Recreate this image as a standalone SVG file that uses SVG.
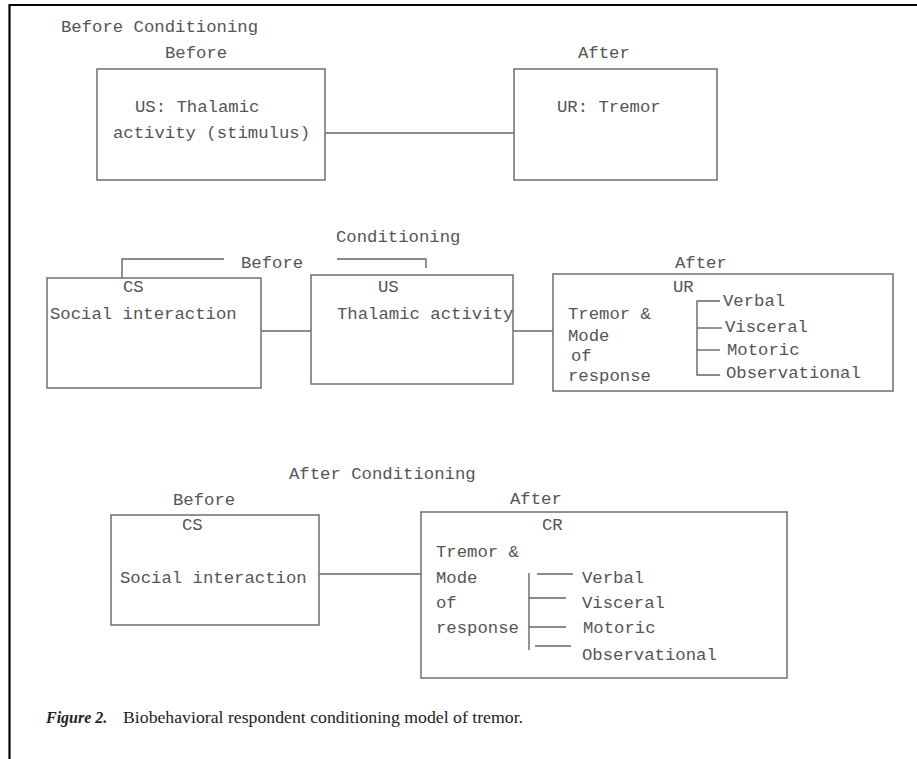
<svg xmlns="http://www.w3.org/2000/svg" width="917" height="759" viewBox="0 0 917 759">
<style>
  .t { font-family: "Liberation Mono", "Courier New", monospace; font-size: 17.3px; fill: #555; }
  .box { fill: none; stroke: #777; stroke-width: 1.6; }
  .ln { fill: none; stroke: #666; stroke-width: 1.4; }
  .cap { font-family: "Liberation Serif", "Times New Roman", serif; font-size: 16px; fill: #222; }
</style>
<rect width="917" height="759" fill="#fff"/>
<g id="frame">
  <line x1="9" y1="5" x2="917" y2="5" stroke="#000" stroke-width="2.2"/>
  <line x1="9.5" y1="4" x2="9.5" y2="759" stroke="#000" stroke-width="2.2"/>
</g>
<g id="titles">
  <text class="t" x="61" y="31.5">Before Conditioning</text>
  <text class="t" x="165" y="58">Before</text>
  <text class="t" x="578" y="58">After</text>
  <text class="t" x="336" y="242">Conditioning</text>
  <text class="t" x="241" y="268">Before</text>
  <text class="t" x="675" y="268">After</text>
  <text class="t" x="289" y="479">After Conditioning</text>
  <text class="t" x="173" y="505">Before</text>
  <text class="t" x="510" y="504">After</text>
</g>
<g id="connectors">
  <line class="ln" x1="325" y1="133" x2="514" y2="133"/>
  <polyline class="ln" points="122,278 122,259 224,259"/>
  <polyline class="ln" points="337,259 426,259 426,268"/>
  <line class="ln" x1="261" y1="331" x2="311" y2="331"/>
  <line class="ln" x1="513" y1="331" x2="553" y2="331"/>
  <line class="ln" x1="319" y1="574" x2="421" y2="574"/>
</g>
<g id="node-us1">
  <rect class="box" x="97" y="69" width="228" height="111"/>
  <text class="t" x="135" y="111.5">US: Thalamic</text>
  <text class="t" x="113" y="138">activity (stimulus)</text>
</g>
<g id="node-ur1">
  <rect class="box" x="514" y="69" width="203" height="111"/>
  <text class="t" x="557" y="111.5">UR: Tremor</text>
</g>
<g id="node-cs2">
  <rect class="box" x="47" y="278" width="214" height="110"/>
  <text class="t" x="123" y="292">CS</text>
  <text class="t" x="50" y="319">Social interaction</text>
</g>
<g id="node-us2">
  <rect class="box" x="311" y="275" width="202" height="109"/>
  <text class="t" x="378" y="292">US</text>
  <text class="t" x="337" y="319">Thalamic activity</text>
</g>
<g id="node-ur2">
  <rect class="box" x="553" y="274" width="340" height="117"/>
  <text class="t" x="673" y="292">UR</text>
  <text class="t" x="568" y="319">Tremor &amp;</text>
  <text class="t" x="568" y="341">Mode</text>
  <text class="t" x="571" y="361">of</text>
  <text class="t" x="568" y="381">response</text>
  <polyline class="ln" points="720,301 697,301 697,375 720,375"/>
  <line class="ln" x1="697" y1="328" x2="722" y2="328"/>
  <line class="ln" x1="697" y1="350" x2="720" y2="350"/>
  <text class="t" x="723" y="306">Verbal</text>
  <text class="t" x="725" y="332">Visceral</text>
  <text class="t" x="727" y="355">Motoric</text>
  <text class="t" x="726" y="378">Observational</text>
</g>
<g id="node-cs3">
  <rect class="box" x="111" y="515" width="208" height="110"/>
  <text class="t" x="182" y="530">CS</text>
  <text class="t" x="120" y="583">Social interaction</text>
</g>
<g id="node-cr3">
  <rect class="box" x="421" y="512" width="366" height="166"/>
  <text class="t" x="542" y="530">CR</text>
  <text class="t" x="436" y="557">Tremor &amp;</text>
  <text class="t" x="436" y="583">Mode</text>
  <text class="t" x="436" y="608">of</text>
  <text class="t" x="436" y="633">response</text>
  <line class="ln" x1="529" y1="573" x2="529" y2="650"/>
  <line class="ln" x1="537" y1="574" x2="573" y2="574"/>
  <line class="ln" x1="529" y1="598" x2="566" y2="598"/>
  <line class="ln" x1="529" y1="627" x2="566" y2="627"/>
  <line class="ln" x1="535" y1="646" x2="571" y2="646"/>
  <text class="t" x="582" y="583">Verbal</text>
  <text class="t" x="582" y="608">Visceral</text>
  <text class="t" x="583" y="633">Motoric</text>
  <text class="t" x="582" y="660">Observational</text>
</g>
<g id="caption">
  <text class="cap" x="46" y="723"><tspan font-weight="bold" font-style="italic">Figure 2.</tspan></text>
  <text class="cap" x="123" y="723" textLength="400" lengthAdjust="spacingAndGlyphs">Biobehavioral respondent conditioning model of tremor.</text>
</g>
</svg>
